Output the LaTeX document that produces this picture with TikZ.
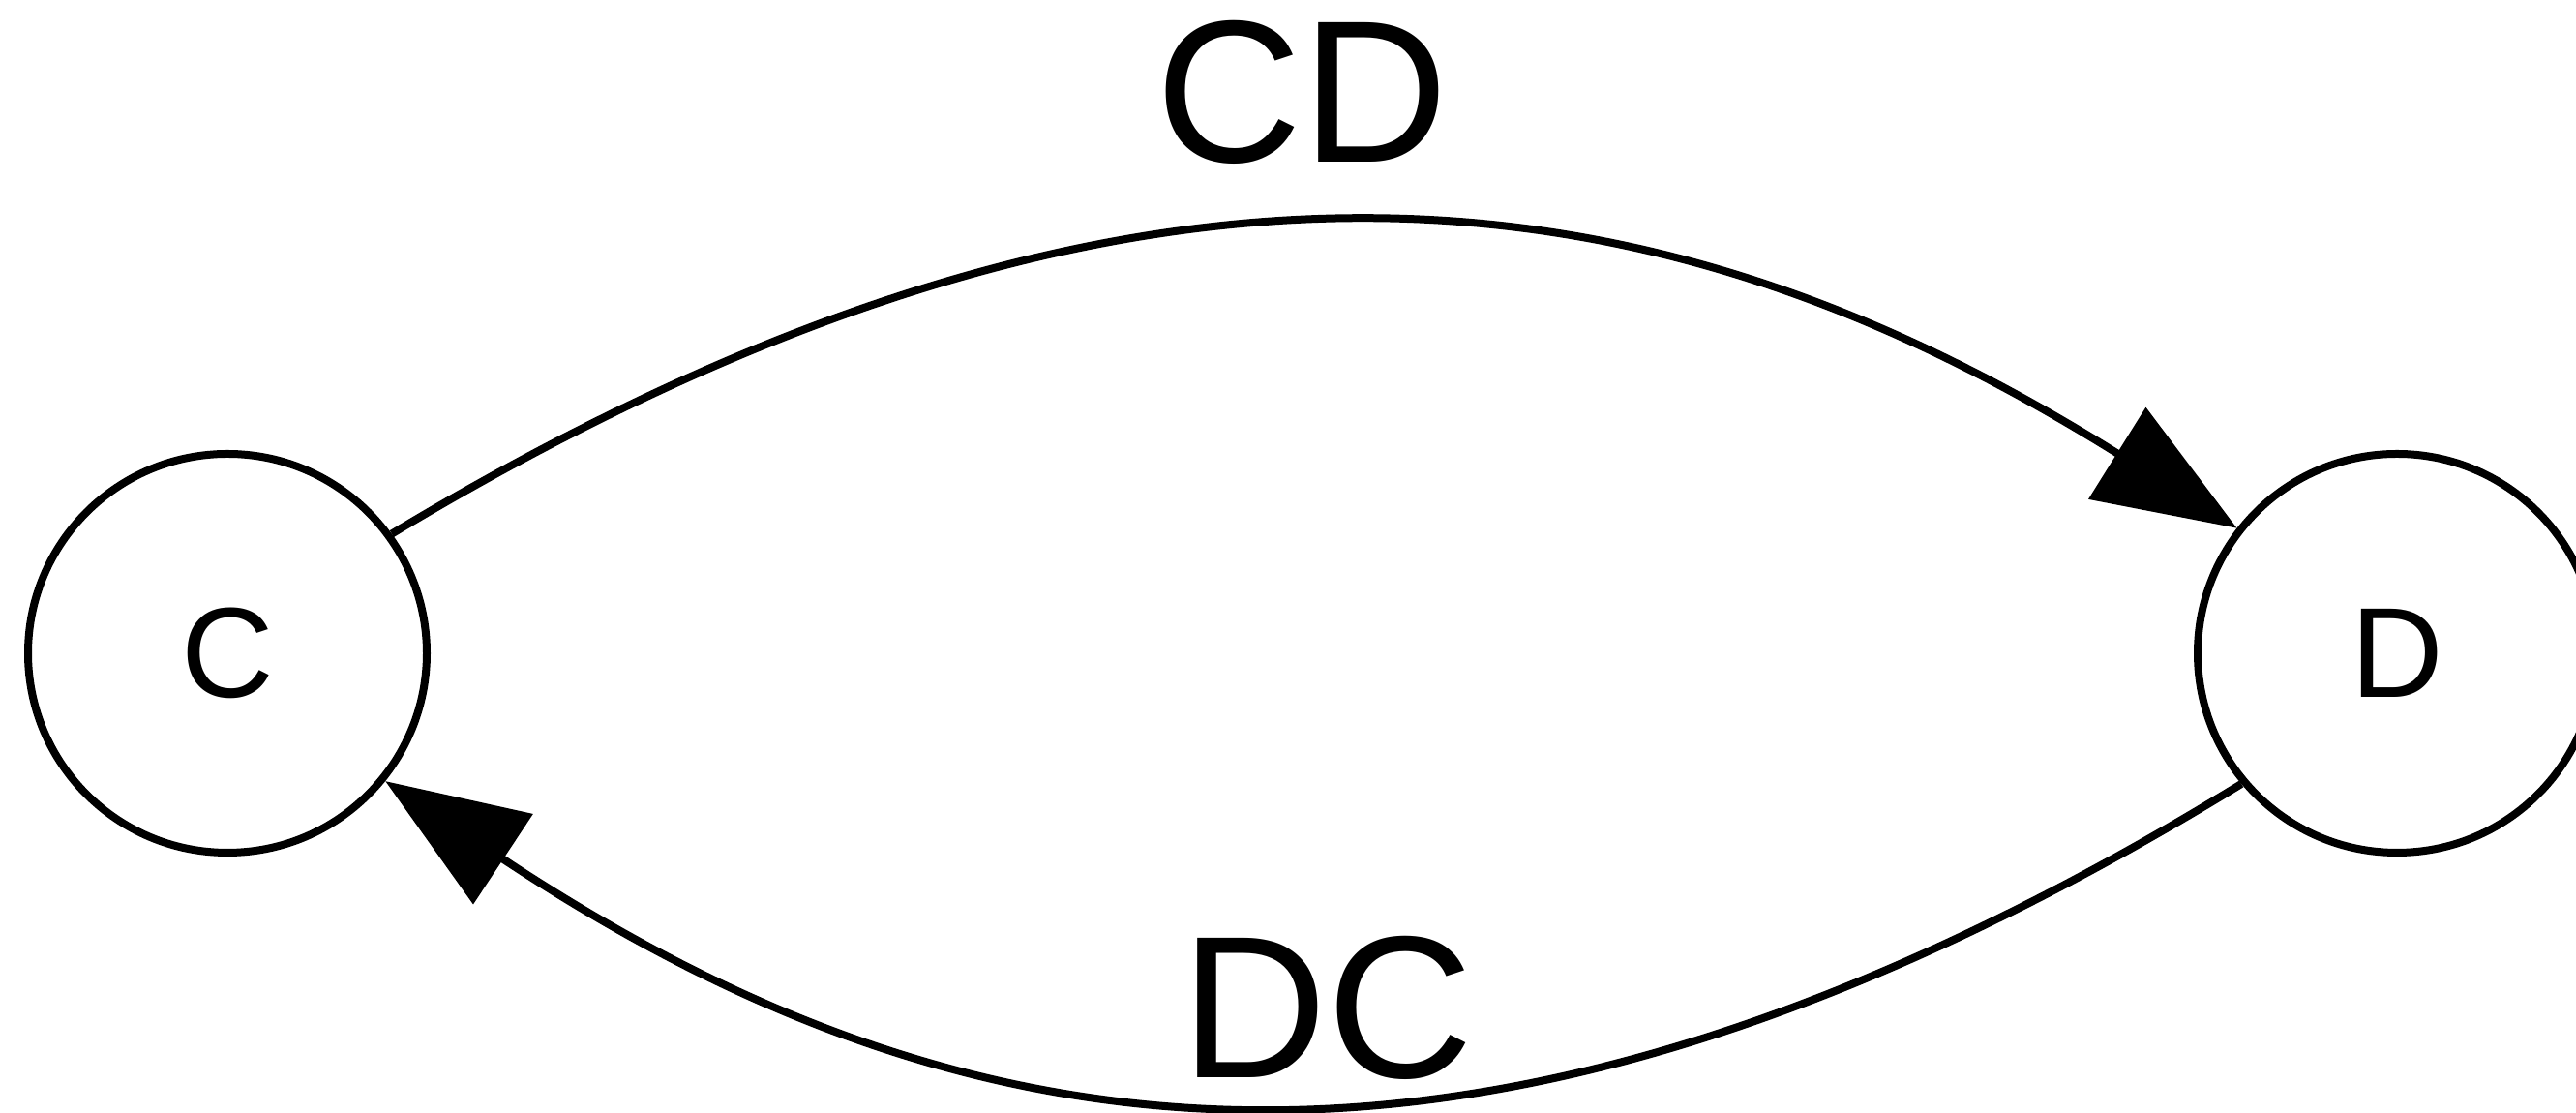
\documentclass[tikz,border=0pt]{standalone}
\usepackage{fontspec}
\setmainfont{Liberation Sans}
\usetikzlibrary{arrows.meta,positioning}
\tikzset{
  state/.style={circle,draw,line width=.08cm,minimum size=4.12cm,inner sep=0pt,font=\fontsize{37.7}{40}\selectfont},
  edgelabel/.style={inner sep=0pt,font=\fontsize{59.6}{62}\selectfont},
  link/.style={line width=.08cm,-{Triangle[length=1.46cm,width=1.1cm]}}
}

\begin{document}
\begin{tikzpicture}
\useasboundingbox (0,0) rectangle (26.62,11.5);
\node[state] (c) at (2.35,4.75) {C};
\node[state] (d) at (24.77,4.75) {D};
\node[edgelabel] (cd) at (13.46,10.55) {CD};
\node[edgelabel] (dc) at (13.72,1.09) {DC};
\draw[link] (c.36) to[out=31,in=148,out looseness=1.25,in looseness=0.9] (d.142);
\draw[link] (d.220) to[out=211.5,in=326.5,out looseness=1.26,in looseness=0.93] (c.321.5);
\end{tikzpicture}
\end{document}
